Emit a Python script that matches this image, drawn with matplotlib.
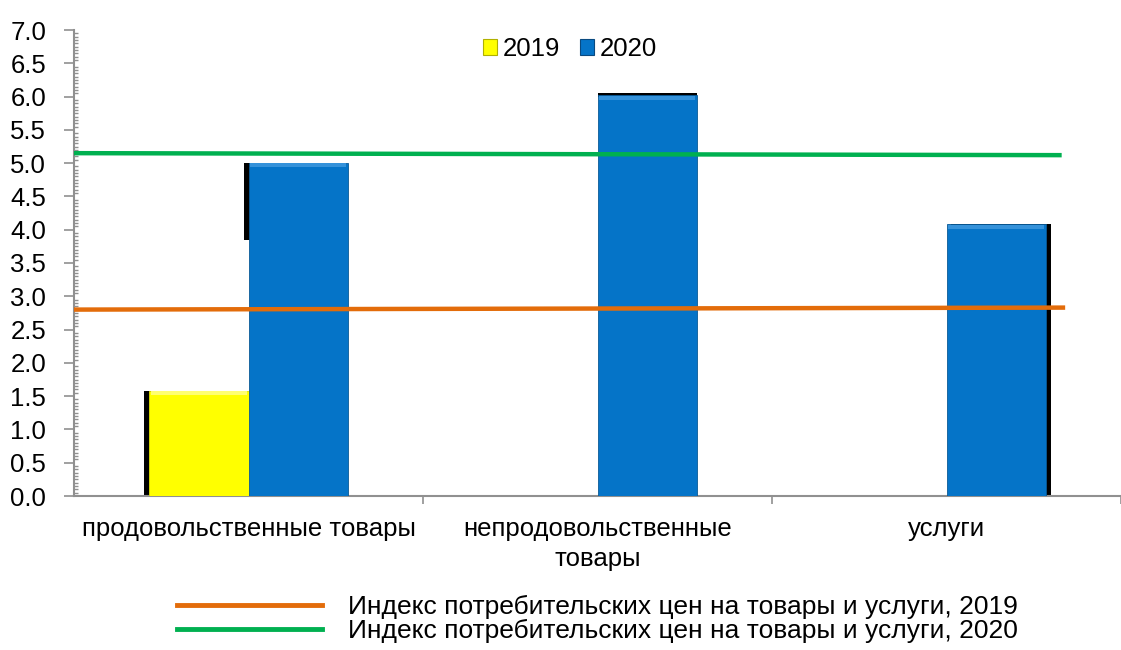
import numpy as np
import matplotlib
matplotlib.use('Agg')
import matplotlib.pyplot as plt
from matplotlib.lines import Line2D
from matplotlib.patches import Rectangle

plt.rcParams['font.family'] = ['Liberation Sans', 'DejaVu Sans']

# data
categories = ['продовольственные товары', 'непродовольственные\nтовары', 'услуги']
values_2019 = [1.58, np.nan, np.nan]
values_2020 = [5.0, 6.02, 4.08]
cpi_2019 = [2.80, 2.83]   # left end, right end
cpi_2020 = [5.15, 5.12]
bar_labels = ['2019', '2020']
line_labels = ['Индекс потребительских цен на товары и услуги, 2019',
               'Индекс потребительских цен на товары и услуги, 2020']

yellow = '#FFFF00'
blue = '#0574C8'
orange = '#E36C0A'
green = '#00B050'
fs = 18.5

fig = plt.figure(figsize=(11.21, 6.5), dpi=100)
ax = fig.add_axes([74 / 1121, 1 - 496 / 650, 1 - 74 / 1121, (496 - 30) / 650])

x = np.arange(len(categories))
w = 0.285

# shadows (dark edges) behind bars
ax.bar(x[0] - w / 2 - 0.014, values_2019[0], w, color='black', zorder=2)
ax.bar(x[0] + w / 2 - 0.014, values_2020[0] - 3.85, w, bottom=3.85, color='black', zorder=2)
ax.bar(x[1] + w / 2, 0.05, w, bottom=values_2020[1] - 0.02, color='black', zorder=2)
ax.bar(x[2] + w / 2 + 0.014, values_2020[2], w, color='black', zorder=2)

ax.bar(x - w / 2, values_2019, w, color=yellow, edgecolor='#E0E000', linewidth=0.6, zorder=3)
ax.bar(x + w / 2, values_2020, w, color=blue, edgecolor='#0A5A96', linewidth=0.6, zorder=3)

# light bevel strip at the top edge of each bar
for xi, v in zip(x - w / 2, values_2019):
    if not np.isnan(v):
        ax.bar(xi, 0.06, w * 0.97, bottom=v - 0.065, color='#FFFF70', zorder=4)
for xi, v in zip(x + w / 2, values_2020):
    ax.bar(xi, 0.06, w * 0.97, bottom=v - 0.065, color='#3592DA', zorder=4)

ax.plot([-0.5, 2.34], cpi_2019, color=orange, lw=3.2, zorder=5, solid_capstyle='butt')
ax.plot([-0.5, 2.33], cpi_2020, color=green, lw=3.2, zorder=5, solid_capstyle='butt')

ax.set_xlim(-0.5, 1047 / 352 - 0.5)
ax.set_ylim(0, 7)
ax.set_yticks(np.arange(0, 7.01, 0.5))
ax.set_yticklabels([f'{v:.1f}' for v in np.arange(0, 7.01, 0.5)], fontsize=fs)
ax.set_yticks(np.arange(0, 7.01, 0.05), minor=True)
ax.set_xticks(x)
ax.set_xticklabels(categories, fontsize=fs, linespacing=1.3)
ax.set_xticks([0.5, 1.5, 2.5], minor=True)
ax.tick_params(axis='x', which='major', length=0, pad=15)
ax.tick_params(axis='x', which='minor', length=6, color='#909090', width=1.2)
ax.tick_params(axis='y', which='major', length=7, color='#909090', width=1.2, direction='out', pad=13)
ax.tick_params(axis='y', which='minor', length=3, color='#909090', width=1, direction='in')
for side in ['top', 'right']:
    ax.spines[side].set_visible(False)
for side in ['left', 'bottom']:
    ax.spines[side].set_color('#909090')
    ax.spines[side].set_linewidth(1.5)

# top legend for bars
handles = [Rectangle((0, 0), 1, 1, facecolor=yellow, edgecolor='#B0B000', lw=0.8),
           Rectangle((0, 0), 1, 1, facecolor=blue, edgecolor='#0A4A80', lw=0.8)]
fig.legend(handles, bar_labels, loc='center', bbox_to_anchor=(570 / 1121, 1 - 49 / 650),
           ncol=2, frameon=False, fontsize=fs, handlelength=0.55, handleheight=0.55,
           handletextpad=0.2, columnspacing=0.8)

# bottom legend for lines
lh = [Line2D([0], [0], color=orange, lw=3.5), Line2D([0], [0], color=green, lw=3.5)]
fig.legend(lh, line_labels, loc='center left', bbox_to_anchor=(153 / 1121, 1 - 619 / 650),
           ncol=1, frameon=False, fontsize=19, handlelength=5.5, handletextpad=1.0,
           labelspacing=0.0)

fig.savefig('out.png', dpi=100)
